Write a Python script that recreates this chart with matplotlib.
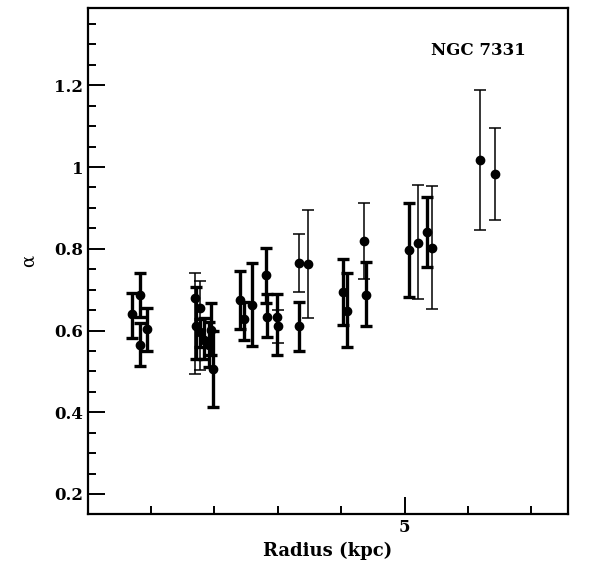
import matplotlib
matplotlib.use("Agg")
import matplotlib.pyplot as plt
from matplotlib.ticker import MultipleLocator, FixedLocator
import numpy as np

# radius (kpc), alpha, upper / lower end of the error bar, thick bar flag
radius = [0.70, 0.83, 0.82, 0.94,
          1.70, 1.77, 1.71, 1.77, 1.83, 1.91, 1.95, 1.98,
          2.41, 2.46, 2.59, 2.81, 2.83, 2.98, 3.01,
          3.33, 3.47, 3.33,
          4.03, 4.09, 4.36, 4.39,
          5.07, 5.21, 5.36, 5.43,
          6.19, 6.43]
alpha = [0.640, 0.687, 0.564, 0.603,
         0.680, 0.655, 0.610, 0.597, 0.576, 0.564, 0.601, 0.507,
         0.674, 0.627, 0.662, 0.737, 0.632, 0.632, 0.611,
         0.766, 0.762, 0.611,
         0.695, 0.648, 0.819, 0.688,
         0.797, 0.814, 0.840, 0.803,
         1.018, 0.982]
alpha_hi = [0.691, 0.740, 0.618, 0.655,
            0.740, 0.720, 0.706, 0.628, 0.630, 0.620, 0.668, 0.600,
            0.746, 0.670, 0.764, 0.803, 0.689, 0.689, 0.650,
            0.837, 0.894, 0.670,
            0.776, 0.740, 0.913, 0.767,
            0.912, 0.955, 0.927, 0.954,
            1.188, 1.096]
alpha_lo = [0.581, 0.633, 0.513, 0.550,
            0.493, 0.503, 0.530, 0.560, 0.530, 0.510, 0.540, 0.413,
            0.603, 0.577, 0.562, 0.668, 0.583, 0.540, 0.570,
            0.695, 0.630, 0.550,
            0.613, 0.560, 0.727, 0.611,
            0.682, 0.678, 0.756, 0.652,
            0.845, 0.870]
thick = [1, 1, 1, 1,
         0, 0, 1, 1, 1, 1, 1, 1,
         1, 1, 1, 1, 1, 1, 0,
         0, 0, 1,
         1, 1, 0, 1,
         1, 0, 1, 0,
         0, 0]

plt.rcParams['font.family'] = 'DejaVu Serif'
plt.rcParams['font.weight'] = 'bold'

fig = plt.figure(figsize=(5.96, 5.74), dpi=100)
ax = fig.add_axes([0.1477, 0.1045, 0.8053, 0.8815])

for i in range(len(radius)):
    lw = 2.4 if thick[i] else 1.1
    yerr = [[alpha[i] - alpha_lo[i]], [alpha_hi[i] - alpha[i]]]
    ax.errorbar([radius[i]], [alpha[i]], yerr=yerr, fmt='o', color='black',
                ms=6, elinewidth=lw, capsize=4, capthick=lw)

ax.set_xlim(0.005, 7.58)
ax.set_ylim(0.151, 1.389)

ax.xaxis.set_major_locator(FixedLocator([5]))
ax.xaxis.set_minor_locator(MultipleLocator(1))
ax.yaxis.set_major_locator(MultipleLocator(0.2))
ax.yaxis.set_minor_locator(MultipleLocator(0.05))
ax.yaxis.set_major_formatter(plt.FuncFormatter(lambda v, p: ('%.1f' % v).rstrip('0').rstrip('.') if abs(v - round(v)) < 1e-6 else '%.1f' % v))

ax.tick_params(which='both', direction='in', labelsize=12, width=1.4)
ax.tick_params(which='major', length=12)
ax.tick_params(which='minor', length=6)
for s in ax.spines.values():
    s.set_linewidth(1.6)

ax.set_xlabel('Radius (kpc)', fontsize=13, fontweight='bold')
ax.set_ylabel('α', fontsize=13, labelpad=12)
ax.text(6.17, 1.286, 'NGC 7331', fontsize=12, fontweight='bold', ha='center', va='center')

fig.savefig('out.png', dpi=100)
